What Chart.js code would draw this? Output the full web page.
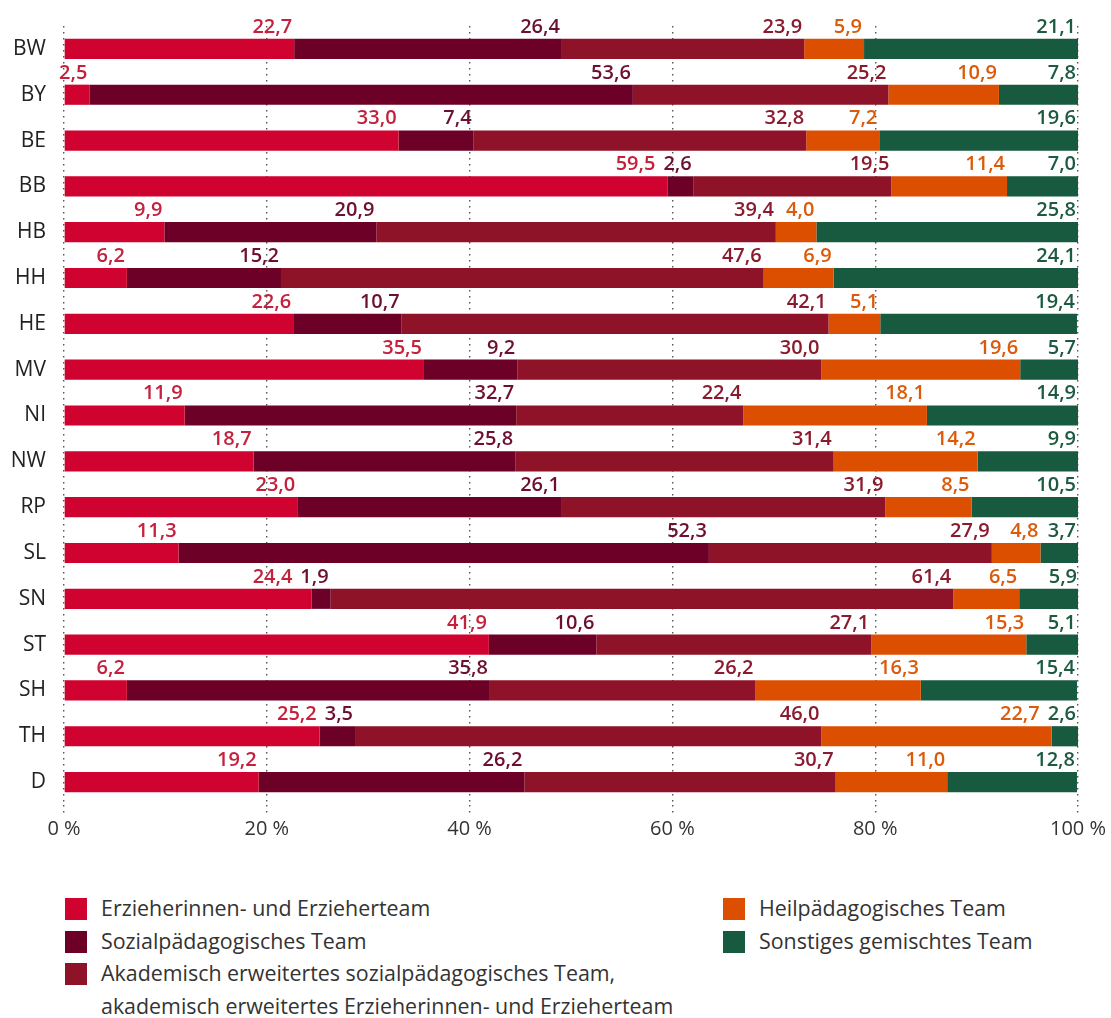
<!DOCTYPE html>
<html>
<head>
<meta charset="utf-8">
<script src="https://cdn.jsdelivr.net/npm/chart.js@4.4.1/dist/chart.umd.min.js"></script>
<style>
  html, body { margin: 0; padding: 0; background: #ffffff; }
  #wrap { position: relative; width: 1111px; height: 1018px; font-family: "Open Sans", sans-serif; }
  #chartBox { position: absolute; left: 0; top: 0; width: 1111px; height: 850px; }
  .leg { position: absolute; color: #333; font-size: 21.4px; line-height: 32.5px; }
  .leg .sw { position: absolute; left: 0; top: 5px; width: 22px; height: 22px; }
  .leg .tx { position: absolute; white-space: nowrap; top: -1px; }
</style>
</head>
<body>
<div id="wrap">
  <div id="chartBox"><canvas id="c" width="1111" height="850"></canvas></div>
  <div id="legend"></div>
</div>
<script>
const categories = ["BW","BY","BE","BB","HB","HH","HE","MV","NI","NW","RP","SL","SN","ST","SH","TH","D"];
const seriesNames = [
  "Erzieherinnen- und Erzieherteam",
  "Sozialpädagogisches Team",
  "Akademisch erweitertes sozialpädagogisches Team,\nakademisch erweitertes Erzieherinnen- und Erzieherteam",
  "Heilpädagogisches Team",
  "Sonstiges gemischtes Team"
];
const erzieherteam   = [22.7, 2.5, 33.0, 59.5, 9.9, 6.2, 22.6, 35.5, 11.9, 18.7, 23.0, 11.3, 24.4, 41.9, 6.2, 25.2, 19.2];
const sozialpaed     = [26.4, 53.6, 7.4, 2.6, 20.9, 15.2, 10.7, 9.2, 32.7, 25.8, 26.1, 52.3, 1.9, 10.6, 35.8, 3.5, 26.2];
const akademisch     = [23.9, 25.2, 32.8, 19.5, 39.4, 47.6, 42.1, 30.0, 22.4, 31.4, 31.9, 27.9, 61.4, 27.1, 26.2, 46.0, 30.7];
const heilpaed       = [5.9, 10.9, 7.2, 11.4, 4.0, 6.9, 5.1, 19.6, 18.1, 14.2, 8.5, 4.8, 6.5, 15.3, 16.3, 22.7, 11.0];
const sonstiges      = [21.1, 7.8, 19.6, 7.0, 25.8, 24.1, 19.4, 5.7, 14.9, 9.9, 10.5, 3.7, 5.9, 5.1, 15.4, 2.6, 12.8];
const xTicks = [0, 20, 40, 60, 80, 100];

const barColors   = ["#d0022f", "#6d0026", "#8e1328", "#dc4f00", "#175a3f"];
const labelColors = ["#c4213d", "#6d1030", "#8a1a2e", "#dc5a0a", "#1d5b40"];
const seriesData = [erzieherteam, sozialpaed, akademisch, heilpaed, sonstiges];

const valueLabels = {
  id: 'valueLabels',
  afterDatasetsDraw(chart) {
    const ctx = chart.ctx;
    ctx.save();
    ctx.font = '600 20px "Open Sans", sans-serif';
    ctx.textAlign = 'right';
    ctx.textBaseline = 'alphabetic';
    const n = chart.data.labels.length;
    const nd = chart.data.datasets.length;
    for (let i = 0; i < n; i++) {
      let prevLeft = Infinity;
      for (let di = nd - 1; di >= 0; di--) {
        const el = chart.getDatasetMeta(di).data[i];
        const txt = chart.data.datasets[di].data[i].toFixed(1).replace('.', ',');
        const w = ctx.measureText(txt).width;
        const right = Math.min(el.x - 2, prevLeft - 8);
        ctx.fillStyle = labelColors[di];
        ctx.fillText(txt, right, el.y - el.height / 2 - 6);
        prevLeft = right - w;
      }
    }
    ctx.restore();
  }
};

new Chart(document.getElementById('c'), {
  type: 'bar',
  data: {
    labels: categories,
    datasets: seriesData.map((d, i) => ({
      label: seriesNames[i],
      data: d,
      backgroundColor: barColors[i],
      borderWidth: 0,
      barPercentage: 0.44,
      categoryPercentage: 1.0
    }))
  },
  options: {
    indexAxis: 'y',
    responsive: false,
    animation: false,
    layout: { padding: { left: 0, right: 33, top: 26, bottom: 0 } },
    plugins: { legend: { display: false }, tooltip: { enabled: false } },
    scales: {
      x: {
        stacked: true, min: 0, max: 100,
        afterBuildTicks: (s) => { s.ticks = xTicks.map(v => ({ value: v })); },
        afterFit: (s) => { s.height = 45; },
        border: { display: false, dash: [1.5, 4.5] },
        grid: { color: '#555', lineWidth: 1.4, tickLength: 8, drawTicks: true, tickBorderDash: [1.5, 4.5], tickColor: '#555' },
        ticks: { color: '#333', font: { family: '"Open Sans", sans-serif', size: 20 }, padding: 4, callback: (v) => v + ' %' }
      },
      y: {
        stacked: true,
        afterFit: (s) => { s.width = 64; },
        border: { display: false },
        grid: { display: false },
        ticks: { color: '#222', font: { family: '"Open Sans", sans-serif', size: 21 }, padding: 10 }
      }
    }
  },
  plugins: [valueLabels]
});

// HTML legend
const legendPos = [
  { x: 65, y: 893 }, { x: 65, y: 925.5 }, { x: 65, y: 958 },
  { x: 723, y: 893 }, { x: 723, y: 925.5 }
];
const legend = document.getElementById('legend');
seriesNames.forEach((name, i) => {
  const d = document.createElement('div');
  d.className = 'leg';
  d.style.left = legendPos[i].x + 'px';
  d.style.top = legendPos[i].y + 'px';
  const sw = document.createElement('div');
  sw.className = 'sw';
  sw.style.background = barColors[i];
  const tx = document.createElement('div');
  tx.className = 'tx';
  tx.style.left = '36px';
  tx.innerHTML = name.split('\n').join('<br>');
  d.appendChild(sw); d.appendChild(tx);
  legend.appendChild(d);
});
</script>
</body>
</html>
